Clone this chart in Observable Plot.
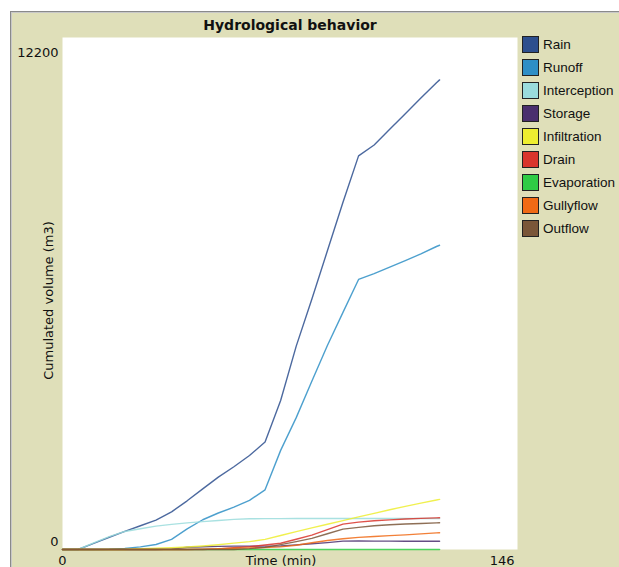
<!DOCTYPE html>
<html>
<head>
<meta charset="utf-8">
<script src="https://cdn.jsdelivr.net/npm/d3@7"></script>
<script src="https://cdn.jsdelivr.net/npm/@observablehq/plot@0.6"></script>
<style>
  html, body { margin: 0; padding: 0; width: 619px; height: 567px; overflow: hidden; background: #ffffff; font-family: "DejaVu Sans", sans-serif; }
  #panel { position: absolute; left: 10px; top: 11px; width: 660px; height: 600px; background: #dfdfb9; border-left: 1px solid #8a8a8a; border-top: 1px solid #8a8a8a; box-shadow: inset 1px 1px 0 #c8c8c8; }
  #title { position: absolute; left: 0; top: 17px; width: 580px; text-align: center; font-weight: bold; font-size: 14px; line-height: 16px; color: #111; }
  #chart { position: absolute; left: 0; top: 30px; }
  #legend { position: absolute; left: 522px; top: 36px; font-family: "Liberation Sans", Arial, sans-serif; font-size: 13.5px; color: #111; white-space: nowrap; }
  .row { position: relative; height: 23px; }
  .sw { position: absolute; left: 0; top: 0; width: 17px; height: 17px; box-sizing: border-box; border: 1.5px solid #222; }
  .lb { position: absolute; left: 21px; top: 0; line-height: 17px; }
</style>
</head>
<body>
<div id="panel"></div>
<div id="title"></div>
<div id="chart"></div>
<div id="legend"></div>
<script>
// ---- data ----
const chartTitle = "Hydrological behavior";
const xLabel = "Time (min)";
const yLabel = "Cumulated volume (m3)";
const xTicks = [0, 146];
const yTicks = [0, 12200];

const seriesNames  = ["Rain", "Runoff", "Interception", "Storage", "Infiltration", "Drain", "Evaporation", "Gullyflow", "Outflow"];
const seriesColors = ["#2d4f8e", "#2e8fc6", "#9adcdc", "#4a2f6e", "#eded30", "#d9342c", "#2fcc45", "#f06a15", "#7a5638"];

const time = [0, 5, 10, 15, 20, 25, 30, 35, 40, 45, 50, 55, 60, 65, 70, 75, 80, 85, 90, 95, 100, 105, 110, 115, 120, 121];

const rain         = [0, 0, 148, 292, 431, 566, 701, 898, 1160, 1445, 1724, 1971, 2241, 2560, 3550, 4846, 5965, 7117, 8275, 9380, 9639, 10015, 10383, 10757, 11124, 11190];
const runoff       = [0, 0, 0, 5, 27, 63, 119, 241, 493, 709, 870, 1008, 1172, 1421, 2362, 3142, 4009, 4860, 5650, 6435, 6572, 6727, 6884, 7043, 7220, 7250];
const interception = [0, 0, 160, 305, 430, 495, 556, 598, 635, 665, 692, 718, 733, 735, 736, 737, 737, 738, 738, 739, 739, 740, 740, 740, 740, 740];
const storage      = [0, 0, 0, 0, 0, 0, 0, 10, 55, 65, 75, 80, 80, 80, 85, 110, 137, 165, 200, 205, 200, 199, 198, 198, 198, 198];
const infiltration = [0, 0, 0, 0, 0, 20, 30, 42, 60, 83, 114, 151, 188, 240, 334, 426, 515, 602, 689, 776, 862, 948, 1028, 1104, 1180, 1195];
const drain        = [0, 0, 0, 0, 0, 0, 0, 0, 0, 0, 15, 40, 68, 107, 150, 243, 344, 474, 604, 652, 684, 706, 726, 741, 753, 756];
const evaporation  = [0, 0, 0, 0, 0, 0, 0, 0, 0, 0, 0, 0, 0, 0, 0, 0, 0, 0, 0, 0, 0, 0, 0, 0, 0, 0];
const gullyflow    = [0, 0, 0, 0, 0, 0, 0, 0, 0, 10, 20, 30, 38, 46, 63, 100, 160, 215, 255, 290, 310, 330, 348, 373, 395, 400];
const outflow      = [0, 0, 0, 0, 0, 0, 0, 0, 0, 0, 0, 0, 20, 50, 117, 189, 264, 375, 486, 528, 565, 590, 606, 620, 634, 637];

const seriesValues = [rain, runoff, interception, storage, infiltration, drain, evaporation, gullyflow, outflow];

// long-format table built from the arrays above
const rows = [];
seriesNames.forEach((name, i) => {
  time.forEach((t, j) => rows.push({t, v: seriesValues[i][j], series: name}));
});

document.getElementById("title").textContent = chartTitle;

const chart = Plot.plot({
  width: 619,
  height: 537,
  marginLeft: 62,
  marginRight: 102,
  marginTop: 7,
  marginBottom: 18,
  x: {domain: [xTicks[0], xTicks[1]]},
  y: {domain: [yTicks[0], yTicks[1]]},
  color: {domain: seriesNames, range: seriesColors},
  style: {background: "transparent", fontFamily: "DejaVu Sans, sans-serif", fontSize: "13px", color: "#111", overflow: "visible"},
  marks: [
    Plot.frame({fill: "white"}),
    Plot.lineY(rows, {x: "t", y: "v", z: "series", stroke: "series", strokeWidth: 1.4, strokeOpacity: 0.85}),
    Plot.axisY({ticks: [yTicks[1]], tickSize: 0, tickPadding: 4, dy: 15, tickFormat: d => String(d), label: null}),
    Plot.axisY({ticks: [yTicks[0]], tickSize: 0, tickPadding: 4, dy: -8, tickFormat: d => String(d), label: null}),
    Plot.axisX({ticks: [xTicks[0]], tickSize: 0, tickPadding: 6, tickFormat: d => String(d), label: null}),
    Plot.axisX({ticks: [xTicks[1]], tickSize: 0, tickPadding: 6, textAnchor: "end", dx: -3, tickFormat: d => String(d), label: null}),
    Plot.text([yLabel], {text: d => d, frameAnchor: "left", dx: -14, dy: 7, rotate: -90, textAnchor: "middle", lineAnchor: "middle", fill: "#111"}),
    Plot.text([xLabel], {text: d => d, frameAnchor: "bottom", dx: -9, dy: 11, textAnchor: "middle", lineAnchor: "middle", fill: "#111"})
  ]
});
document.getElementById("chart").appendChild(chart);

// legend
const legend = document.getElementById("legend");
seriesNames.forEach((name, i) => {
  const row = document.createElement("div");
  row.className = "row";
  const sw = document.createElement("div");
  sw.className = "sw";
  sw.style.background = seriesColors[i];
  const lb = document.createElement("div");
  lb.className = "lb";
  lb.textContent = name;
  row.appendChild(sw);
  row.appendChild(lb);
  legend.appendChild(row);
});
</script>
</body>
</html>
